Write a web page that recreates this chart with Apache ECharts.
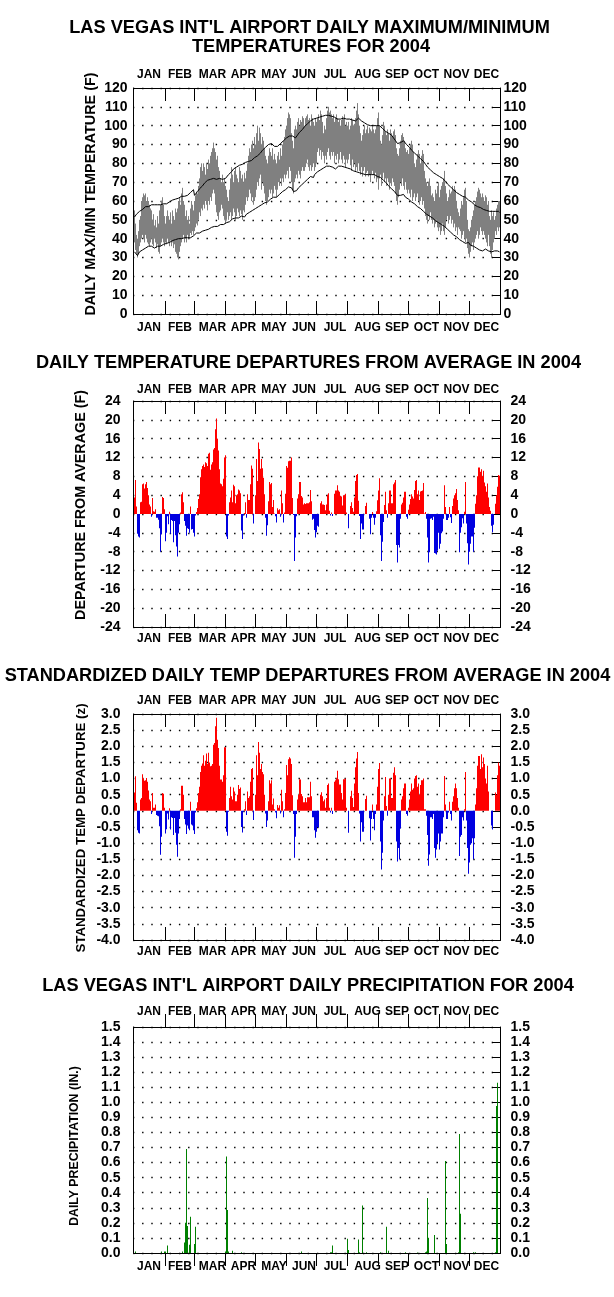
<!DOCTYPE html>
<html><head><meta charset="utf-8">
<style>html,body{margin:0;padding:0;background:#fff}#c{width:614px;height:1297px}</style>
<script src="https://cdn.jsdelivr.net/npm/echarts@6/dist/echarts.min.js"></script>
</head><body><div id="c"></div>
<script>
const monthNames=['JAN','FEB','MAR','APR','MAY','JUN','JUL','AUG','SEP','OCT','NOV','DEC'];
const monthTickDays=[32,61,92,122,153,183,214,245,275,306,336];
const monthLabelDays=[15.5,46.5,79,110,140.5,170.5,201.5,234,263.5,293,323,353];
const dailyMax=[55,48,42,40,44,50,52,60,62,64,63,64,60,62,60,58,56,55,50,53,47,50,46,52,48,55,58,60,62,58,52,
48,52,55,52,50,54,48,55,52,50,56,54,56,60,62,58,64,67,60,58,52,55,50,52,48,56,60,58,55,
60,63,65,64,68,72,78,80,76,80,78,74,80,77,82,80,84,86,88,91,88,86,82,84,78,76,72,70,74,70,72,
68,66,62,60,66,72,78,74,70,76,78,74,72,70,78,76,72,74,70,75,72,76,80,84,88,86,90,92,88,94,
90,96,100,92,99,96,90,94,92,88,84,82,80,84,88,86,84,88,82,85,82,80,84,86,82,88,84,90,92,94,98,
100,104,107,106,104,96,92,88,98,100,98,102,104,100,103,102,105,104,100,104,105,106,103,104,100,106,104,102,100,104,
102,104,106,103,108,106,102,96,100,98,104,108,110,107,108,106,104,106,102,104,106,104,102,103,100,103,105,104,106,100,102,
100,102,98,100,104,103,100,101,104,108,112,106,100,96,92,95,98,100,96,98,100,96,99,98,97,100,98,96,98,100,104,
107,100,92,90,95,102,100,97,95,98,96,92,98,96,94,97,98,95,88,85,84,88,92,95,96,94,92,88,86,87,
85,88,90,92,90,86,80,78,82,85,87,85,80,84,87,85,76,72,70,68,70,72,68,63,64,62,60,66,64,68,70,
62,66,68,70,72,76,68,64,60,62,66,64,65,68,66,68,66,60,56,54,52,56,60,58,62,66,67,60,50,45,
44,46,50,52,55,58,60,62,65,67,66,64,62,64,62,60,63,62,58,60,52,50,55,52,54,50,52,56,58,60,60];
const dailyMin=[38,34,32,30,32,36,38,40,42,40,38,42,40,38,37,36,38,40,37,36,40,38,35,37,33,32,36,38,40,38,36,
38,37,40,38,36,39,36,38,35,37,33,32,30,29,33,36,38,40,42,38,40,38,42,40,41,43,42,44,42,
44,46,48,47,50,54,52,56,55,58,56,60,58,55,60,58,62,60,64,66,64,58,54,52,50,54,55,58,56,52,50,
48,50,54,50,52,54,50,52,56,54,50,52,56,54,52,55,53,50,55,54,58,62,60,62,66,64,60,62,58,60,
62,66,70,68,72,74,66,70,68,64,60,58,60,62,66,64,66,62,64,68,66,62,66,70,68,72,68,72,70,74,72,
74,76,72,78,76,70,66,64,70,72,74,72,76,74,72,76,78,76,76,78,80,82,78,76,79,76,78,80,76,78,
80,86,88,84,87,82,86,84,80,84,82,86,88,84,82,86,84,86,80,84,82,85,80,82,86,82,80,84,82,78,82,
80,82,85,79,76,82,78,80,76,78,76,80,76,74,78,73,76,78,73,75,76,73,74,70,74,76,74,72,75,70,72,
66,72,74,68,72,75,70,72,68,72,70,66,70,68,72,70,68,64,60,58,62,66,70,68,72,68,66,70,66,64,
66,64,62,66,60,62,64,60,62,64,60,58,60,62,58,60,56,52,50,48,52,50,54,50,48,50,46,48,50,46,44,
46,42,44,48,44,42,46,50,52,48,50,52,48,50,46,48,44,46,42,46,45,44,40,42,44,40,38,40,35,32,
30,33,36,38,34,38,40,42,44,40,42,46,44,42,44,42,40,38,36,42,36,32,30,34,38,40,44,42,46,44,46];
const normalHigh=[51.5,52,53,53.5,54,54.5,55,55.5,55.5,56,56.5,57,57,56.5,57,57.5,58,58,57.5,58,58,58.5,58,58,58.5,58,58,58.5,59,58.5,59,
59,58.5,59,59,59.5,60,60,60.5,60,60.5,61,61,61.5,61.5,62,62,62.5,62.5,62,62.5,63,63.5,63,63.5,64,64.5,65,65.5,66,
63,63.5,64,65,66,66.5,67,67.5,68,69,69.5,70,70.5,71,71,71.5,71.5,72,72.5,72,72.5,72,71.5,72,71.5,72,72.5,72,71.5,72,71.5,
72,72,73,74,74.5,75,75.5,76,77,77.5,77.5,78,78.5,78,79,79.5,79,79.5,80,80,80.5,80.5,81,81,81.5,82,81.5,82,82.5,83,
83,83.5,84,84.5,85,85.5,86,87,88,88,88.5,89,89.5,90,90.5,91,90.5,90,89.5,89,89,88.5,89,89.5,90,90.5,91,91.5,92,92.5,93,
93.5,94,94,94.5,95,95,94.5,94,93.5,93.5,94,95,96,96.5,97,97.5,98,99,99.5,100,100.5,101,101.5,102,102.5,103,103.5,103.5,104,104,
104,104,104,104.5,104,104.5,105,105,105.5,105.5,105.5,105.5,105.5,105.5,105,105,104.5,104,104.5,104,103.5,103.5,103.5,103,103.5,103,103.5,104,103.5,103.5,103.5,
103.5,103.5,103.5,103.5,103,103,103,102.5,102.5,103,103.5,104,103.5,103,102.5,102,101.5,101.5,101,101,100.5,100.5,100.5,100,100,100,100,100.5,100.5,100,100.5,
100.5,100,99.5,99,98.5,98,97.5,97,96.5,96,96,95.5,95.5,95,94,93.5,93,92,91,90.5,90.5,90.5,91,91.5,92,92,91.5,91,90,89.5,
89,88.5,88,87,86.5,86,85.5,85,84.5,84,83.5,83,82.5,82,81.5,81,80.5,79.5,78.5,78,77.5,77,76.5,76,75.5,75,74.5,74,74,73.5,73,
73,72.5,72.5,72,71.5,71,70.5,69.5,69,68.5,68,67.5,67,66.5,66,65.5,65,64.5,64,64,63.5,63,63,62.5,62,62,62,61.5,61,60.5,
60,60,59.5,59,58.5,58,57.5,57,57,57,56.5,56.5,56,56,55.5,55.5,55,55,55,55,54.5,55,55,54.5,54.5,54,54.5,54,54,54.5,54];
const normalLow=[33,32.5,32,31,32,33,33.5,34,34,34.5,35,35,35.5,35.5,36,35.5,36,36,35.5,35.5,35,36,36,36,35.5,36,36,36.5,36,37,37,
37,37.5,38,38,38,38.5,38.5,39,39,39,39.5,39,39.5,40,40,40,40,40.5,40,40.5,40.5,41,40.5,41,41,40.5,41,41.5,41.5,
42,42.5,43,43,43.5,43,43.5,44,44,44,44.5,44.5,45,45,45,45.5,45.5,46,46,46,46.5,46.5,47,46.5,47,47,47.5,47,47.5,47.5,47,
48,48.5,49,49.5,49,49.5,50,50.5,50.5,51,51,50.5,51,51,51.5,51.5,52,52,51,51.5,52,53,53,53.5,54,54,54.5,55,55.5,55.5,
56,56,56.5,57,57.5,57.5,58,58,58.5,59,59,59.5,59.5,60,60.5,61,61,61.5,62,62,62,62,62.5,63,63.5,64,64.5,65,65.5,66,66,
66.5,67,67.5,68,68.5,67,66,65,64,64.5,65.5,66,67,67.5,68,68.5,69,69.5,70,70.5,71,71.5,72,72.5,73,73.5,73,72.5,74,74.5,
75,75.5,76,76,76.5,77,77,77.5,78,78.5,78.5,79,79,78.5,78.5,78,78,77.5,77,77,77.5,78,78.5,78.5,78.5,78.5,78.5,78,78,77.5,77.5,
77.5,77.5,77,77,77,76.5,76,76,75.5,75.5,75.5,75,75,75,74.5,74.5,74.5,74,74,74,74,74,73.5,74,74,73.5,73.5,74,73.5,73.5,73,
73,73,72.5,72,71.5,71,71,70,69.5,69,68,68,67,66.5,66,65.5,65,64.5,64,63,63,62.5,63,64,64,63.5,63,62,61.5,61.5,
61,60.5,60,59.5,59,59,58.5,58,57.5,57,56.5,56,56,55.5,55,54.5,54,53.5,53,53,52.5,52,51.5,51,51,50.5,50,49.5,49,49,48.5,
48,47.5,47.5,47,47,46.5,46,45.5,45,44.5,44,43.5,43,42.5,42,41.5,41,41,40.5,40,39.5,39,39,38.5,38,37.5,37.5,37,37,38,
37,36.5,37,36.5,36,36,35.5,35,35,34.5,34,34.5,34,33.5,33.5,34,34.5,34,33.5,33.5,33,33,33,33,33,33.5,33.5,33,33.5,33.5,33];
const departures=[3.5,7.2,1.6,-4.2,-4.8,-5,2.5,2.6,6.3,6.5,5.4,6.3,6.8,5.5,4,2,1.6,-0.6,3.4,0.6,0.5,1,-0.8,-0.8,-1.2,-3,-8,-4.3,3.6,3.4,1,
-5.8,-4,-0.5,-2.2,0.5,-4.2,-1.3,-1.5,-6,-1.5,-4.5,-6.9,-9,-4,-2.2,0.3,4.2,4.6,2.5,-1.5,-2.5,-4.6,-3,-3.2,-4,1.6,-3.3,-3.2,-4,
-4.8,-0.3,0.4,1.3,3.2,4.2,7.8,9.5,10.2,10.5,10,11,10.8,10.2,12.8,13,9.4,10.5,11,13.7,14,18,20.3,16,13.5,9.5,6.5,6.3,5.9,7.5,12,
12.5,-4.8,-5.3,-0.3,2.5,3.5,5,2.5,6.2,5.9,2.3,4,4.2,5.2,5,4.4,-3.5,-5.3,-0.3,0.2,2.5,-0.8,4.2,3,3,6.3,10.3,9.6,-2,0,
4,11.7,7,15.2,13.8,9.6,11.7,9.7,7.7,4.2,-0.8,-4.6,-2.4,2.7,6.8,6.3,6.6,1.5,3,0.1,-0.5,-1.8,1.2,0.8,1,-0.6,5,2.3,-1.8,0.3,4.3,
10.2,9.8,11.2,11.3,11.3,12,3.4,-0.2,-10,-5,-0.5,3.3,4.2,6.8,6.8,3.8,3.5,2,2.3,2.1,2.3,2.3,2.3,2.5,5.1,2.7,-1.2,-1,-3.4,-5,
-3.9,-2.5,-2.7,0,2.3,2.7,2,2,1.9,0.8,2,4.1,4.4,0.7,-0.3,0.3,-0.4,0,4.3,5,5,6.1,5,4.7,3.9,3.7,1.8,4,4,4.3,0.3,
0,-3,0,1.7,2.5,1.3,0.5,3.5,7,8.3,8.5,2.8,-0.4,-5.3,-2,-3.3,-3.3,0,1.7,2.4,0,0,-1,-4.3,-0.8,0.4,-0.8,-2.3,-0.8,0.6,2.9,5,7.6,
-4.5,-10,-5.9,-1.7,1.9,4.7,0.8,-0.8,2.3,5,5,2.3,2.3,6.3,6.7,7.2,-6.6,-10.3,-6.6,-7.1,-1,2,2.4,3.5,4.7,4.7,-0.6,-1,0.9,2,
3.2,4.2,3.7,3.3,5.1,7,7.2,4.2,5,3,4.8,4.9,5,6.6,0.1,0.4,-1,-5,-10.3,-8.1,-1,-0.9,-1.3,-0.6,-8.3,-8.4,-8.6,-7.8,-4,-7.4,-6.3,
-4.1,-3.7,-1,6.1,1.5,-1.3,-1.3,-0.8,1.5,-0.7,-1.9,1.7,3.3,4,4.4,5.3,3,0.8,-8.1,-4,-2.8,-0.9,-2,0.5,6.8,-2,-6.2,-10.7,-8,
-6.3,-4.8,-4.8,-8,-2.9,2.2,4,8,9.9,9.9,9,9.5,8,9.2,6.7,5.9,4.7,6.5,3.5,1.5,0.7,-2.5,-3.9,-2.3,0,2.2,4,5.8,8.3,8.1];
const zScores=[0.57,1.07,0.25,-0.6,-0.68,-0.7,0.35,0.4,1.13,1,0.93,0.95,1.02,0.9,0.63,0.35,0.3,-0.1,0.55,0.1,0.1,0.2,-0.13,-0.15,-0.17,-0.48,-1.36,-0.8,0.55,0.53,0.1,
-0.7,-0.57,-0.08,-0.27,0.08,-0.58,-0.2,-0.22,-0.75,-0.22,-0.68,-1.05,-1.42,-0.7,-0.25,0.05,0.78,0.78,0.5,-0.25,-0.42,-0.72,-0.45,-0.55,-0.6,0.28,-0.42,-0.45,-0.6,
-0.72,-0.05,0.08,0.27,0.55,0.75,1.2,1.4,1.47,1.72,1.4,1.55,1.78,1.45,1.8,1.5,1.38,1.4,1.45,2.05,2.1,2.62,2.88,2.2,1.95,1.4,0.97,0.97,0.9,1.1,1.97,
1.97,-0.65,-0.77,-0.03,0.4,0.75,0.45,0.35,0.72,0.6,0.3,0.3,0.5,0.8,0.68,0.72,-0.5,-0.67,-0.03,0.05,0.3,-0.13,0.6,0.4,0.45,0.9,1.3,1.33,-0.28,0,
0.5,1.72,1.1,2.13,1.8,1.3,1.45,1.2,1.13,0.5,-0.08,-0.5,-0.3,0.3,0.95,0.85,0.95,0.2,0.38,0.05,-0.05,-0.23,0.18,0.1,0.17,-0.08,0.65,0.3,-0.2,0.05,0.55,
1.42,1.1,1.6,1.66,1.62,1.45,0.48,-0.1,-1.45,-0.8,-0.1,0.35,0.5,0.98,0.97,0.52,0.45,0.27,0.27,0.4,0.27,0.42,0.42,0.42,0.9,0.45,-0.2,-0.2,-0.6,-0.83,
-0.65,-0.5,-0.52,0,0.5,0.58,0.45,0.3,0.35,0.1,0.4,0.8,0.85,0.1,-0.05,0.1,-0.1,0,0.9,0.95,1,1.24,0.98,0.82,0.82,0.55,0.35,0.98,0.98,1,0.1,
0,-0.68,0,0.45,0.62,0.4,0.12,0.85,1.35,1.62,1.82,0.55,-0.08,-0.95,-0.35,-0.65,-0.65,0,0.37,0.47,0,0,-0.23,-0.92,-0.25,0.2,-0.25,-0.6,-0.1,0.2,0.75,1.3,1.48,
-0.95,-1.82,-1.3,-0.3,0.45,1.05,0.15,-0.15,0.5,1,1,0.4,0.4,1.18,1.35,1.1,-0.95,-1.57,-1.15,-1.5,-0.55,0.35,0.45,0.7,0.85,0.85,-0.1,-0.15,0.1,0.35,
0.6,0.85,0.65,0.7,1,1.08,1.1,0.75,0.85,0.5,0.8,0.95,0.95,1,0.05,0.05,-0.15,-0.75,-1.7,-1.35,-0.2,-0.2,-0.25,-0.1,-1.15,-1.45,-1.2,-1,-0.7,-1.2,-0.95,
-0.7,-0.7,-0.2,1.08,0.2,-0.25,-0.25,-0.05,0.28,-0.1,-0.3,0.28,0.45,0.7,0.85,0.7,0.4,0.1,-1.4,-0.8,-0.75,-0.2,-0.3,0.05,1.2,-0.3,-1.15,-1.95,-1.6,
-1.05,-1,-0.85,-1.5,-0.85,0.2,0.7,1.4,1.7,1.7,1.3,1.75,1.35,1.65,1.45,1,0.85,1.4,0.6,0,0,-0.45,-0.58,0,0,0.57,0.5,1.1,1.5,1.4];
const precipDays=[2,28,31,32,34,49,51,52,53,54,56,57,61,62,92,93,94,95,99,108,168,197,198,199,214,215,225,226,229,233,247,253,255,272,284,292,293,294,295,301,312,313,325,326,327,340,342,362,363,364];
const precipValues=[0.01,0.01,0.01,0.01,0.05,0.01,0.07,0.2,0.69,0.18,0.055,0.24,0.06,0.175,0.01,0.64,0.285,0.01,0.015,0.005,0.01,0.005,0.005,0.05,0.095,0.02,0.09,0.005,0.315,0.005,0.005,0.175,0.015,0.005,0.003,0.005,0.01,0.365,0.1,0.12,0.61,0.06,0.005,0.79,0.26,0.005,0.005,0.005,0.975,1.13];

const FONT='"Liberation Sans",Arial,sans-serif';
const days=departures.map((_,i)=>i+1);
const panels=[
 {top:88,min:0,max:120,step:10,dec:0,tm:7,bm:8,inside:true,lm:6,rm:3},
 {top:401,min:-24,max:24,step:4,dec:0,tm:5,bm:6,inside:true,lm:13,rm:10},
 {top:714,min:-4,max:3,step:0.5,dec:1,tm:7,bm:6,inside:true,lm:13,rm:10},
 {top:1027,min:0,max:1.5,step:0.1,dec:1,tm:9,bm:8,inside:false,lm:13,rm:10}
];
const grids=[],xAxes=[],yAxes=[];
panels.forEach((p,i)=>{
 grids.push({left:133.5,width:367,top:p.top,height:226});
 ['bottom','top'].forEach((pos)=>xAxes.push({
  type:'value',gridIndex:i,position:pos,min:0,max:367,
  axisLine:{onZero:false,lineStyle:{color:'#000',width:1}},
  splitLine:{show:false},
  axisTick:{show:true,inside:p.inside,length:13,customValues:monthTickDays,lineStyle:{color:'#000',width:1}},
  axisLabel:{show:true,customValues:monthLabelDays,margin:pos==='top'?p.tm:p.bm,color:'#000',fontFamily:FONT,fontWeight:'bold',fontSize:12,
   formatter:v=>monthNames[monthLabelDays.indexOf(v)],showMinLabel:true,showMaxLabel:true,hideOverlap:false}
 }));
 ['left','right'].forEach((pos)=>yAxes.push({
  type:'value',gridIndex:i,position:pos,min:p.min,max:p.max,interval:p.step,
  axisLine:{show:true,onZero:false,lineStyle:{color:'#000',width:1}},
  axisTick:{show:pos==='right',inside:true,length:8,lineStyle:{color:'#000',width:1}},
  splitLine:pos==='left'?{show:true,lineStyle:{color:'#000',width:1.4,type:[1.4,7.8],dashOffset:0.6}}:{show:false},
  axisLabel:{show:true,margin:pos==='left'?p.lm:p.rm,align:pos==='left'?'right':'left',color:'#000',fontFamily:FONT,fontWeight:'bold',fontSize:14,
   formatter:v=>(p.dec?(+v).toFixed(1):String(Math.round(v)))}
 }));
});
const ax=i=>({xAxisIndex:2*i,yAxisIndex:2*i});
const signColor=(pos,neg)=>params=>params.value[1]>=0?pos:neg;
const series=[
 {type:'custom',...ax(0),silent:true,z:2,
  data:days.map((d,k)=>[d,dailyMin[k],dailyMax[k]]),encode:{x:0,y:[1,2]},
  renderItem:(params,api)=>{
   const a=api.coord([api.value(0),api.value(1)]),b=api.coord([api.value(0),api.value(2)]);
   return {type:'line',shape:{x1:a[0],y1:a[1],x2:b[0],y2:b[1]},style:{stroke:'#808080',lineWidth:1}};
  }},
 {type:'line',...ax(0),z:3,symbol:'none',silent:true,data:days.map((d,k)=>[d,normalHigh[k]]),lineStyle:{color:'#000',width:1}},
 {type:'line',...ax(0),z:3,symbol:'none',silent:true,data:days.map((d,k)=>[d,normalLow[k]]),lineStyle:{color:'#000',width:1}},
 {type:'bar',...ax(1),barWidth:1,silent:true,data:days.map((d,k)=>[d,departures[k]]),itemStyle:{color:signColor('#ff0000','#0000e0')}},
 {type:'bar',...ax(2),barWidth:1,silent:true,data:days.map((d,k)=>[d,zScores[k]]),itemStyle:{color:signColor('#ff0000','#0000e0')}},
 {type:'bar',...ax(3),barWidth:1,silent:true,data:precipDays.map((d,k)=>[d,precipValues[k]]),itemStyle:{color:'#008000'}}
];
const tt=(text,y,x)=>({text,left:x,top:y,textAlign:'center',textVerticalAlign:'middle',padding:0,textStyle:{fontFamily:FONT,fontWeight:'bold',fontSize:18.2,color:'#000'}});
const yName=(text,x,y,size)=>({type:'text',x,y,rotation:Math.PI/2,style:{text,fill:'#000',font:'bold '+size+'px '+FONT,textAlign:'center',textVerticalAlign:'middle'}});
const chart=echarts.init(document.getElementById('c'),null,{renderer:'canvas',width:614,height:1297});
chart.setOption({
 animation:false,backgroundColor:'#fff',
 title:[tt("LAS VEGAS INT'L AIRPORT DAILY MAXIMUM/MINIMUM",28,309.5),tt('TEMPERATURES FOR 2004',47,311),tt('DAILY TEMPERATURE DEPARTURES FROM AVERAGE IN 2004',363,308.5),tt('STANDARDIZED DAILY TEMP DEPARTURES FROM AVERAGE IN 2004',676,307.5),tt("LAS VEGAS INT'L AIRPORT DAILY PRECIPITATION FOR 2004",986,308)],
 grid:grids,xAxis:xAxes,yAxis:yAxes,series,
 graphic:[yName('DAILY MAX/MIN TEMPERATURE (F)',91,194,14.4),yName('DEPARTURE FROM AVERAGE (F)',81,505,14.3),yName('STANDARDIZED TEMP DEPARTURE (z)',81,828,13.3),yName('DAILY PRECIPITATION (IN.)',75,1146,12.3)]
});
</script></body></html>
